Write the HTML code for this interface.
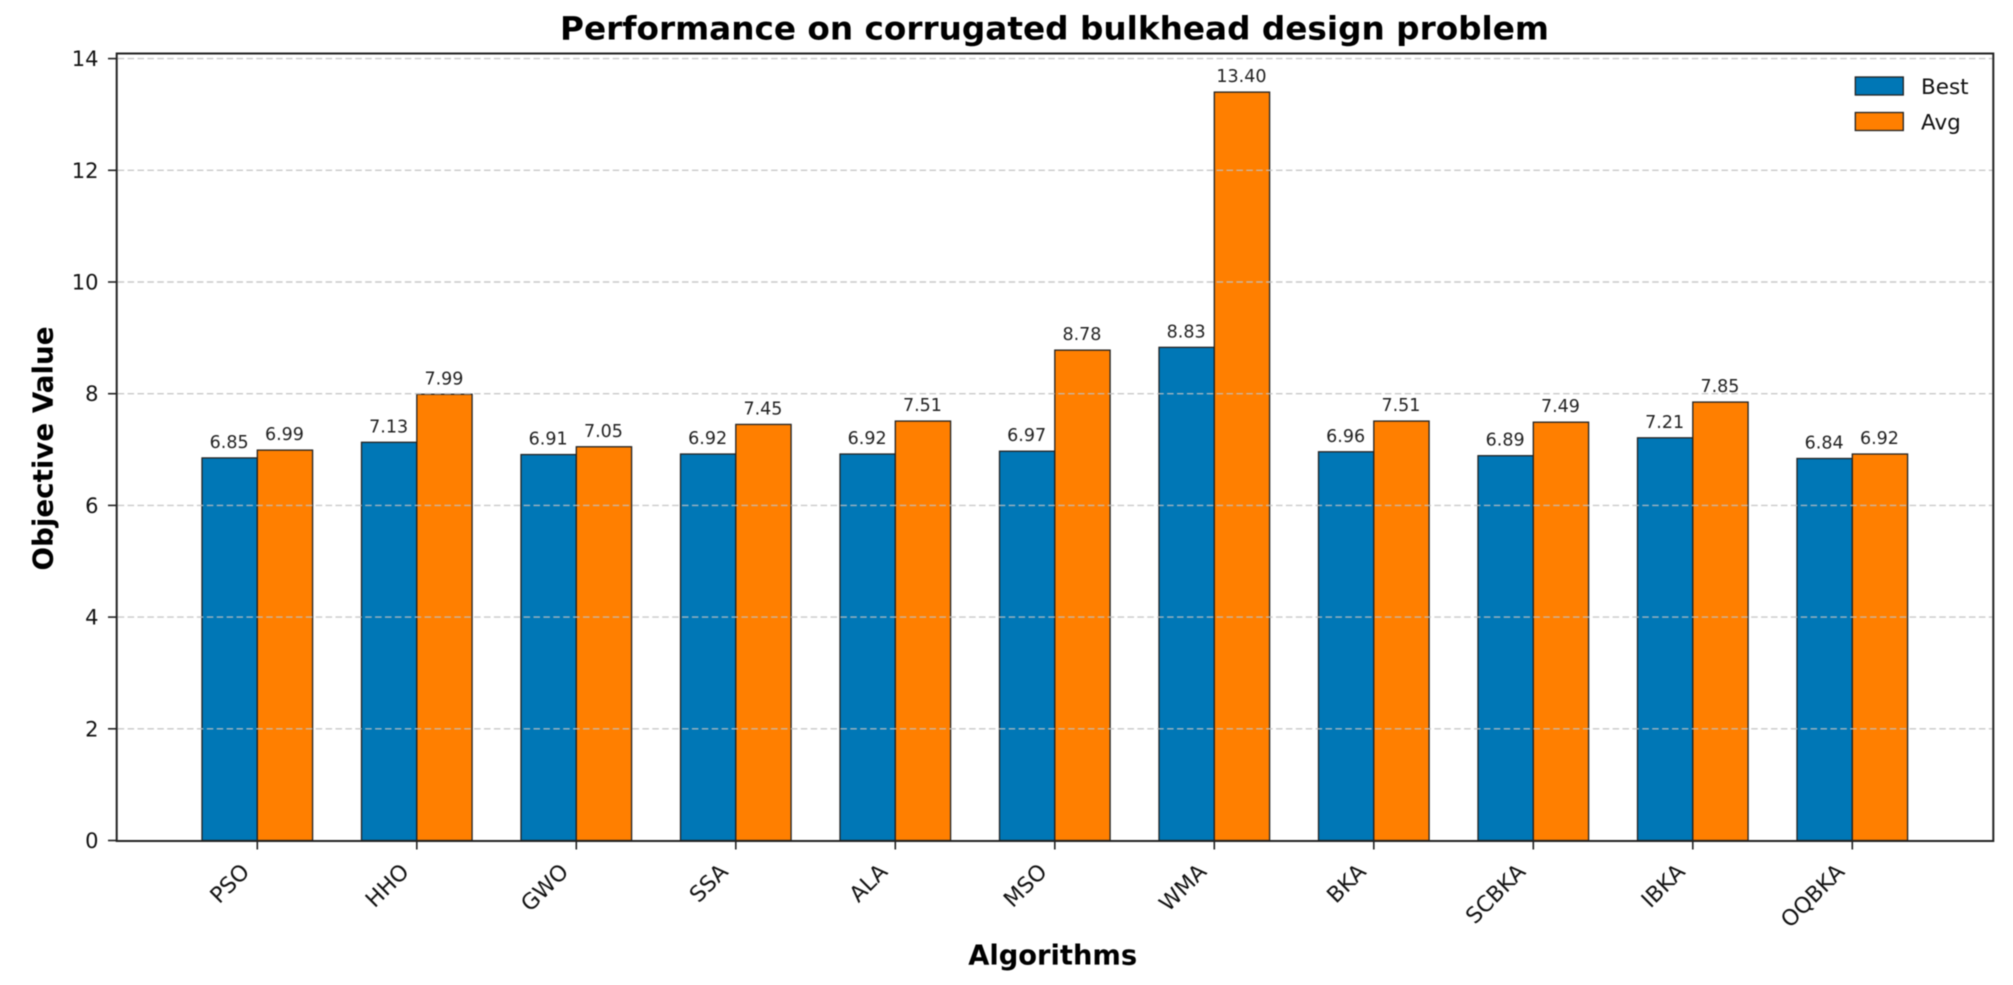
<!DOCTYPE html>
<html lang="en">
<head>
<meta charset="utf-8">
<title>Performance on corrugated bulkhead design problem</title>
<style>
  html, body { margin: 0; padding: 0; background: #fff; width: 2013px; height: 985px; overflow: hidden; }
  svg { display: block; filter: blur(0.45px); }
  text { font-family: "DejaVu Sans", "Liberation Sans", sans-serif; }
</style>
</head>
<body>
<svg id="chart" xmlns="http://www.w3.org/2000/svg" width="2013" height="985" viewBox="0 0 2013 985">
  <rect x="0" y="0" width="2013" height="985" fill="#ffffff"/>
  <g id="bars"></g>
  <g id="grid"></g>
  <g id="labels"></g>
  <g id="ticks"></g>
  <rect x="116.7" y="53.5" width="1876.6" height="787.5" fill="none" stroke="#222222" stroke-width="2"/>
  <text x="1054.5" y="39.5" text-anchor="middle" font-size="32" font-weight="700" fill="#000" textLength="989" lengthAdjust="spacingAndGlyphs">Performance on corrugated bulkhead design problem</text>
  <text transform="translate(52.5 448.5) rotate(-90)" text-anchor="middle" font-size="28" font-weight="700" fill="#000" textLength="244" lengthAdjust="spacingAndGlyphs">Objective Value</text>
  <text x="1052.7" y="964.5" text-anchor="middle" font-size="28" font-weight="700" fill="#000" textLength="169" lengthAdjust="spacingAndGlyphs">Algorithms</text>
  <g>
    <rect x="1855.3" y="77" width="48" height="18" fill="#0077B6" stroke="#222222" stroke-width="1.3"/>
    <text x="1921" y="94" font-size="21.5" fill="#111">Best</text>
    <rect x="1855.3" y="112.5" width="48" height="18" fill="#FF7F00" stroke="#222222" stroke-width="1.3"/>
    <text x="1921" y="129.5" font-size="21.5" fill="#111">Avg</text>
  </g>
</svg>
<script>
const categories = ["PSO", "HHO", "GWO", "SSA", "ALA", "MSO", "WMA", "BKA", "SCBKA", "IBKA", "OQBKA"];
const bestValues = [6.85, 7.13, 6.91, 6.92, 6.92, 6.97, 8.83, 6.96, 6.89, 7.21, 6.84];
const avgValues = [6.99, 7.99, 7.05, 7.45, 7.51, 8.78, 13.40, 7.51, 7.49, 7.85, 6.92];
const yTickLabels = [0, 2, 4, 6, 8, 10, 12, 14];

const SVGNS = "http://www.w3.org/2000/svg";
const plotBaseY = 840.5;
const unitHeight = 55.85;
const firstCenter = 257.3;
const groupStep = 159.5;
const barWidth = 55.3;

function yScale(value) {
  return plotBaseY - value * unitHeight;
}
function xScale(index) {
  return firstCenter + index * groupStep;
}
function make(tag, attrs, parent, content) {
  const el = document.createElementNS(SVGNS, tag);
  Object.keys(attrs).forEach(function (key) { el.setAttribute(key, attrs[key]); });
  if (content !== undefined) el.textContent = content;
  parent.appendChild(el);
  return el;
}

const barsLayer = document.getElementById("bars");
const gridLayer = document.getElementById("grid");
const labelsLayer = document.getElementById("labels");
const ticksLayer = document.getElementById("ticks");

function drawBar(value, index, offset, fill, seriesName) {
  const top = yScale(value);
  const left = xScale(index) + offset;
  const bar = make("rect", {
    x: left, y: top, width: barWidth, height: plotBaseY - top,
    fill: fill, stroke: "#222222", "stroke-width": 1.3
  }, barsLayer);
  
  

  const label = make("text", {
    x: left + barWidth / 2 - 0.5, y: top - 10, "text-anchor": "middle",
    "font-size": 17.5, fill: "#222222"
  }, labelsLayer, value.toFixed(2));
  
  
}

categories.forEach(function (name, i) {
  drawBar(bestValues[i], i, -barWidth, "#0077B6", "best");
  drawBar(avgValues[i], i, 0, "#FF7F00", "avg");

  const tick = make("line", {
    x1: xScale(i), x2: xScale(i), y1: plotBaseY, y2: plotBaseY + 9,
    stroke: "#222222", "stroke-width": 1.6
  }, ticksLayer);
  
  

  const ax = xScale(i) - 6.5;
  const tickLabel = make("text", {
    transform: "translate(" + ax + " 873) rotate(-45)",
    "text-anchor": "end", "font-size": 22, fill: "#111111"
  }, ticksLayer, name);
  
  
});

yTickLabels.forEach(function (value) {
  const y = yScale(value);
  if (value > 0) {
    const gridLine = make("line", {
      x1: 117.7, x2: 1992.3, y1: y, y2: y,
      stroke: "#c0c0c0", "stroke-opacity": 0.85, "stroke-width": 1.4,
      "stroke-dasharray": "6.5 3.4"
    }, gridLayer);
    
    
  }

  const tick = make("line", {
    x1: 108, x2: 116.7, y1: y, y2: y,
    stroke: "#222222", "stroke-width": 1.6
  }, ticksLayer);
  
  

  const tickLabel = make("text", {
    x: 98.5, y: y + 7.5, "text-anchor": "end", "font-size": 21, fill: "#111111"
  }, ticksLayer, String(value));
  
  
});
</script>
</body>
</html>
